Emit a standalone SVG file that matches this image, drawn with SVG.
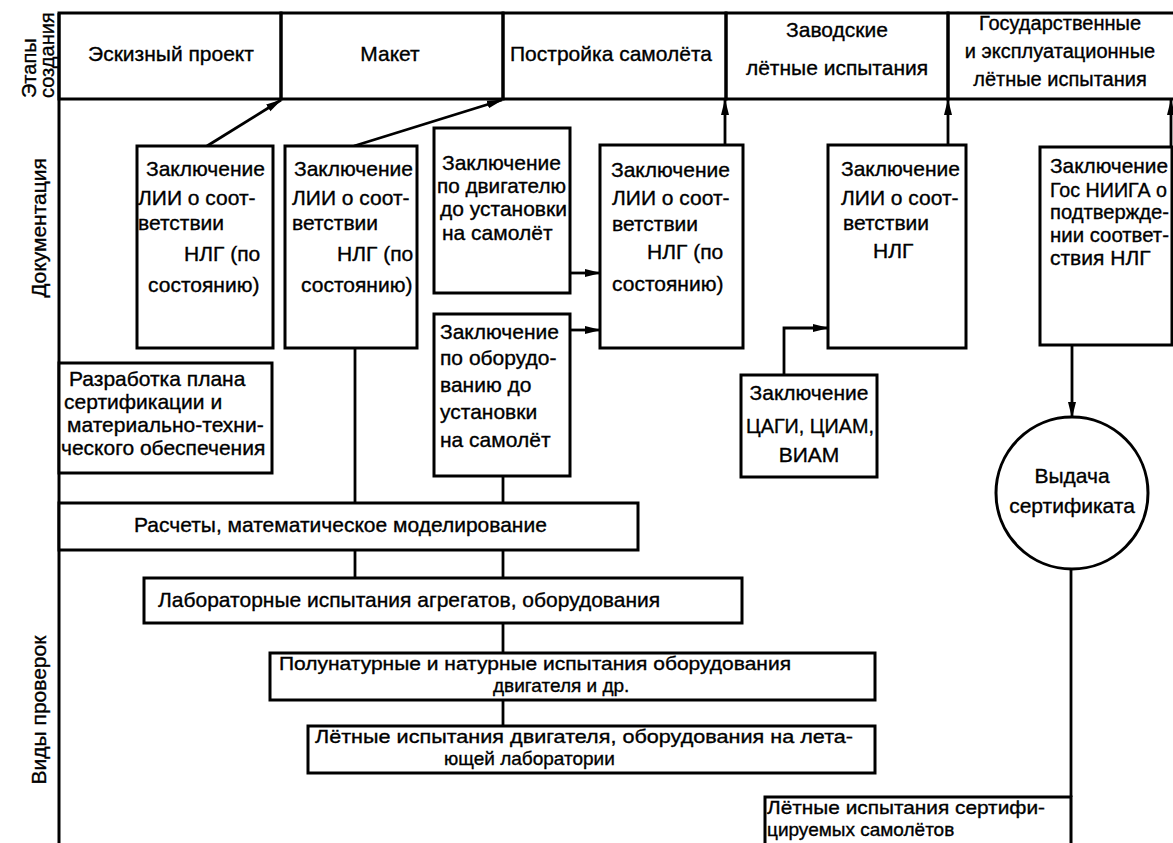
<svg xmlns="http://www.w3.org/2000/svg" width="1173" height="843" viewBox="0 0 1173 843">
<defs>
<marker id="ah" markerUnits="userSpaceOnUse" markerWidth="16" markerHeight="10" viewBox="0 0 16 10" refX="15" refY="5" orient="auto">
<path d="M0,1 L16,5 L0,9 z" fill="#000"/>
</marker>
</defs>
<style>
.b{fill:#fff;stroke:#000;stroke-width:3}
.h{fill:none;stroke:#000;stroke-width:3}
.c{fill:none;stroke:#000;stroke-width:2.8}
.a{marker-end:url(#ah)}
text{font-family:"Liberation Sans",Arial,sans-serif;font-size:21px;fill:#000;stroke:#000;stroke-width:0.35}
.m{text-anchor:middle}
.s{font-size:19px}
.t{font-size:20px}
</style>
<rect width="1173" height="843" fill="#fff"/>

<g id="frame">
<path class="h" d="M59,13 V843"/>
</g>

<g id="side-labels">
<text class="t" transform="translate(36,98) rotate(-90)">Этапы</text>
<text class="t" transform="translate(54,98) rotate(-90)">создания</text>
<text class="m" transform="translate(46,228) rotate(-90)">Документация</text>
<text class="m" transform="translate(46,710) rotate(-90)">Виды проверок</text>
</g>

<g id="stage-sketch"><rect class="h" x="59" y="13" width="222" height="86"/><text class="m" x="171" y="61">Эскизный проект</text></g>
<g id="stage-mockup"><rect class="h" x="281" y="13" width="222" height="86"/><text class="m" x="390" y="61">Макет</text></g>
<g id="stage-build"><rect class="h" x="503" y="13" width="223" height="86"/><text class="m" x="611" y="61">Постройка самолёта</text></g>
<g id="stage-factory"><rect class="h" x="726" y="13" width="222" height="86"/><text class="m" x="837" y="37">Заводские</text><text class="m" x="837" y="75">лётные испытания</text></g>
<g id="stage-state"><path class="h" d="M1175,13 H948 V99 H1175"/><text class="m t" x="1060" y="30">Государственные</text><text class="m t" x="1060" y="58">и эксплуатационные</text><text class="m t" x="1060" y="86">лётные испытания</text></g>

<g id="connectors">
<path class="c a" d="M207,146 L281,100"/>
<path class="c a" d="M354,146 L502,100"/>
<path class="c a" d="M570,273 H600"/>
<path class="c a" d="M570,330 H600"/>
<path class="c a" d="M725,145 V100"/>
<path class="c a" d="M948,145 V100"/>
<path class="c a" d="M1171,147 V100"/>
<path class="c a" d="M784,375 V328 H828"/>
<path class="c a" d="M1072,345 V417"/>
<path class="c" d="M1071,569 V797"/>
<path class="c" d="M355,348 V503"/>
<path class="c" d="M503,476 V503"/>
<path class="c" d="M355,550 V578"/>
<path class="c" d="M503,550 V578"/>
<path class="c" d="M503,623 V653"/>
<path class="c" d="M503,700 V726"/>
</g>

<g id="doc-lii-1"><rect class="b" x="137" y="146" width="136" height="202"/>
<text x="146" y="176">Заключение</text><text x="138" y="205">ЛИИ о соот-</text><text x="138" y="230">ветствии</text><text x="184" y="261">НЛГ (по</text><text x="148" y="292">состоянию)</text></g>

<g id="doc-lii-2"><rect class="b" x="285" y="146" width="132" height="202"/>
<text x="294" y="176">Заключение</text><text x="292" y="205">ЛИИ о соот-</text><text x="292" y="230">ветствии</text><text x="337" y="261">НЛГ (по</text><text x="301" y="292">состоянию)</text></g>

<g id="doc-engine"><rect class="b" x="434" y="128" width="136" height="165"/>
<text x="442" y="170">Заключение</text><text x="437" y="193" textLength="129" lengthAdjust="spacingAndGlyphs">по двигателю</text><text x="440" y="216">до установки</text><text x="442" y="240">на самолёт</text></g>

<g id="doc-equipment"><rect class="b" x="434" y="314" width="136" height="162"/>
<text x="440" y="339">Заключение</text><text x="440" y="365">по оборудо-</text><text x="440" y="392">ванию до</text><text x="440" y="419">установки</text><text x="440" y="447">на самолёт</text></g>

<g id="doc-lii-3"><rect class="b" x="600" y="145" width="143" height="203"/>
<text x="611" y="177">Заключение</text><text x="612" y="205">ЛИИ о соот-</text><text x="612" y="231">ветствии</text><text x="647" y="259">НЛГ (по</text><text x="612" y="291">состоянию)</text></g>

<g id="doc-lii-4"><rect class="b" x="828" y="145" width="138" height="203"/>
<text x="841" y="176">Заключение</text><text x="841" y="205">ЛИИ о соот-</text><text x="843" y="230">ветствии</text><text x="873" y="258">НЛГ</text></g>

<g id="doc-gosniiga"><rect class="b" x="1040" y="147" width="132" height="198"/>
<text x="1050" y="173" textLength="118" lengthAdjust="spacingAndGlyphs">Заключение</text><text x="1050" y="197" textLength="117" lengthAdjust="spacingAndGlyphs">Гос НИИГА о</text><text x="1050" y="219" textLength="119" lengthAdjust="spacingAndGlyphs">подтвержде-</text><text x="1050" y="242" textLength="119" lengthAdjust="spacingAndGlyphs">нии соответ-</text><text x="1050" y="265">ствия НЛГ</text></g>

<g id="doc-plan"><rect class="b" x="59" y="363" width="213" height="110"/>
<text x="69" y="386">Разработка плана</text><text x="64" y="409">сертификации и</text><text x="67" y="432">материально-техни-</text><text x="61" y="455">ческого обеспечения</text></g>

<g id="doc-tsagi"><rect class="b" x="741" y="375" width="136" height="102"/>
<text class="m" x="809" y="400">Заключение</text><text x="746" y="433" textLength="128" lengthAdjust="spacingAndGlyphs">ЦАГИ, ЦИАМ,</text><text class="m" x="809" y="462">ВИАМ</text></g>

<g id="certificate"><circle class="b" cx="1072" cy="493" r="76"/>
<text class="m" x="1072" y="483">Выдача</text><text class="m" x="1072" y="513">сертификата</text></g>

<g id="chk-calc"><rect class="b" x="59" y="503" width="579" height="47"/>
<text x="134" y="532">Расчеты, математическое моделирование</text></g>

<g id="chk-lab"><rect class="b" x="144" y="578" width="598" height="45"/>
<text x="158" y="607">Лабораторные испытания агрегатов, оборудования</text></g>

<g id="chk-seminatural"><rect class="b" x="270" y="653" width="605" height="47"/>
<text class="s" x="279" y="670" textLength="512" lengthAdjust="spacingAndGlyphs">Полунатурные и натурные испытания оборудования</text><text class="s" x="493" y="692">двигателя и др.</text></g>

<g id="chk-flylab"><rect class="b" x="308" y="726" width="567" height="47"/>
<text class="s" x="315" y="743" textLength="538" lengthAdjust="spacingAndGlyphs">Лётные испытания двигателя, оборудования на лета-</text><text class="s" x="444" y="765">ющей лаборатории</text></g>

<g id="chk-certflight"><path class="b" d="M765,846 V797 H1071 V846"/>
<text class="s" x="767" y="814" textLength="278" lengthAdjust="spacingAndGlyphs">Лётные испытания сертифи-</text><text class="s" x="767" y="836">цируемых самолётов</text></g>
</svg>
